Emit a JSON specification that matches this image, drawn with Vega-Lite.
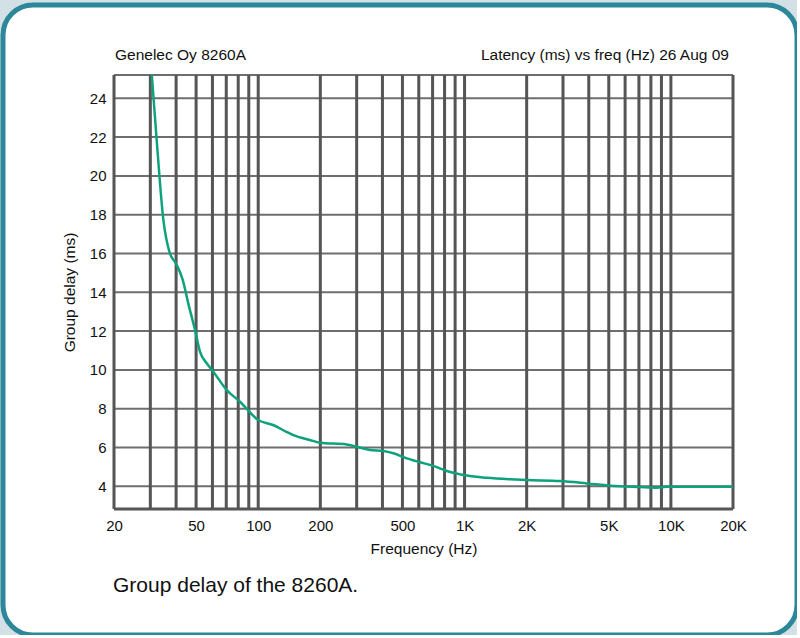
{
  "$schema": "https://vega.github.io/schema/vega-lite/v6.json",
  "width": 794,
  "height": 630,
  "autosize": "none",
  "padding": {"left": 3, "top": 5, "right": 0, "bottom": 0},
  "background": "#d3e0e6",
  "config": {
    "font": "Liberation Sans",
    "view": {"stroke": "#2b8799", "strokeWidth": 5, "cornerRadius": 30, "fill": "white"},
    "axis": {"domain": false, "grid": false, "ticks": false, "labelFont": "Liberation Sans", "labelFontSize": 15, "labelColor": "#111", "titleFont": "Liberation Sans", "titleFontSize": 15.5, "titleFontWeight": "normal", "titleColor": "#111"}
  },
  "datasets": {
    "curve": [
      {"freq": 30.5, "delay": 25.2},
      {"freq": 32.2, "delay": 21.85},
      {"freq": 34.7, "delay": 17.73},
      {"freq": 37.1, "delay": 16.09},
      {"freq": 40.3, "delay": 15.41},
      {"freq": 43.1, "delay": 14.63},
      {"freq": 45.8, "delay": 13.43},
      {"freq": 49.4, "delay": 12.06},
      {"freq": 52.2, "delay": 10.94},
      {"freq": 56.3, "delay": 10.34},
      {"freq": 60.6, "delay": 9.91},
      {"freq": 70.4, "delay": 8.96},
      {"freq": 81.6, "delay": 8.36},
      {"freq": 100, "delay": 7.42},
      {"freq": 118, "delay": 7.16},
      {"freq": 137, "delay": 6.81},
      {"freq": 148, "delay": 6.64},
      {"freq": 178, "delay": 6.39},
      {"freq": 199, "delay": 6.25},
      {"freq": 268, "delay": 6.16},
      {"freq": 300, "delay": 6.04},
      {"freq": 348, "delay": 5.87},
      {"freq": 404, "delay": 5.82},
      {"freq": 452, "delay": 5.7},
      {"freq": 525, "delay": 5.44},
      {"freq": 608, "delay": 5.24},
      {"freq": 706, "delay": 5.05},
      {"freq": 820, "delay": 4.79},
      {"freq": 987, "delay": 4.58},
      {"freq": 1282, "delay": 4.44},
      {"freq": 1663, "delay": 4.36},
      {"freq": 2002, "delay": 4.32},
      {"freq": 2904, "delay": 4.27},
      {"freq": 3911, "delay": 4.15},
      {"freq": 5075, "delay": 4.03},
      {"freq": 7090, "delay": 3.96},
      {"freq": 8546, "delay": 3.93},
      {"freq": 9554, "delay": 3.98},
      {"freq": 20000, "delay": 3.98}
    ],
    "vgrid": [
      {"freq": 20}, {"freq": 30}, {"freq": 40}, {"freq": 50}, {"freq": 60}, {"freq": 70}, {"freq": 80}, {"freq": 90},
      {"freq": 100}, {"freq": 200}, {"freq": 300}, {"freq": 400}, {"freq": 500}, {"freq": 600}, {"freq": 700}, {"freq": 800}, {"freq": 900},
      {"freq": 1000}, {"freq": 2000}, {"freq": 3000}, {"freq": 4000}, {"freq": 5000}, {"freq": 6000}, {"freq": 7000}, {"freq": 8000}, {"freq": 9000},
      {"freq": 10000}, {"freq": 20000}
    ],
    "hgrid": [
      {"delay": 4}, {"delay": 6}, {"delay": 8}, {"delay": 10}, {"delay": 12}, {"delay": 14},
      {"delay": 16}, {"delay": 18}, {"delay": 20}, {"delay": 22}, {"delay": 24}
    ]
  },
  "layer": [
    {
      "data": {"name": "hgrid"},
      "mark": {"type": "rule", "stroke": "#6e6e6e", "strokeWidth": 2},
      "encoding": {
        "y": {"field": "delay", "type": "quantitative", "scale": {"domain": [2.83, 25.2], "range": [504, 70], "nice": false, "zero": false},
          "axis": {"title": "Group delay (ms)", "values": [4, 6, 8, 10, 12, 14, 16, 18, 20, 22, 24], "offset": -111, "labelPadding": 8, "titlePadding": 11.5}},
        "x": {"datum": 20, "type": "quantitative", "scale": {"type": "log", "domain": [20, 20000], "range": [111, 730], "nice": false},
          "axis": {"title": "Frequency (Hz)", "values": [20, 50, 100, 200, 500, 1000, 2000, 5000, 10000, 20000], "labelExpr": "datum.value >= 1000 ? (datum.value / 1000) + 'K' : datum.value", "offset": -126, "labelPadding": 9.5, "titlePadding": 8, "labelFlush": false, "labelOverlap": false, "labelBound": false}},
        "x2": {"datum": 20000}
      }
    },
    {
      "data": {"values": [{}]},
      "mark": {"type": "rule", "stroke": "#6e6e6e", "strokeWidth": 2},
      "encoding": {"y": {"datum": 25.2, "type": "quantitative"}, "x": {"datum": 20, "type": "quantitative"}, "x2": {"datum": 20000}}
    },
    {
      "data": {"name": "vgrid"},
      "mark": {"type": "rule", "stroke": "#555555", "strokeWidth": 3},
      "encoding": {
        "x": {"field": "freq", "type": "quantitative"},
        "y": {"datum": 2.83, "type": "quantitative"},
        "y2": {"datum": 25.2}
      }
    },
    {
      "data": {"values": [{}]},
      "mark": {"type": "rule", "stroke": "#555555", "strokeWidth": 3},
      "encoding": {"y": {"datum": 2.83, "type": "quantitative"}, "x": {"datum": 20, "type": "quantitative"}, "x2": {"datum": 20000}}
    },
    {
      "data": {"name": "curve"},
      "mark": {"type": "line", "stroke": "#0ea27c", "strokeWidth": 2.5, "interpolate": "monotone"},
      "encoding": {
        "x": {"field": "freq", "type": "quantitative"},
        "y": {"field": "delay", "type": "quantitative"}
      }
    },
    {
      "data": {"values": [{}]},
      "mark": {"type": "text", "text": "Genelec Oy 8260A", "align": "left", "baseline": "middle", "fontSize": 15.5, "font": "Liberation Sans", "color": "#111", "dx": 1},
      "encoding": {"x": {"datum": 20, "type": "quantitative"}, "y": {"datum": 26.23, "type": "quantitative"}}
    },
    {
      "data": {"values": [{}]},
      "mark": {"type": "text", "text": "Latency (ms) vs freq (Hz) 26 Aug 09", "align": "right", "baseline": "middle", "fontSize": 15.5, "font": "Liberation Sans", "color": "#111", "dx": -4},
      "encoding": {"x": {"datum": 20000, "type": "quantitative"}, "y": {"datum": 26.23, "type": "quantitative"}}
    },
    {
      "data": {"values": [{}]},
      "mark": {"type": "text", "text": "Group delay of the 8260A.", "align": "left", "baseline": "middle", "fontSize": 21, "font": "Liberation Sans", "color": "#111", "dx": -1},
      "encoding": {"x": {"datum": 20, "type": "quantitative"}, "y": {"datum": -1.14, "type": "quantitative"}}
    }
  ]
}
